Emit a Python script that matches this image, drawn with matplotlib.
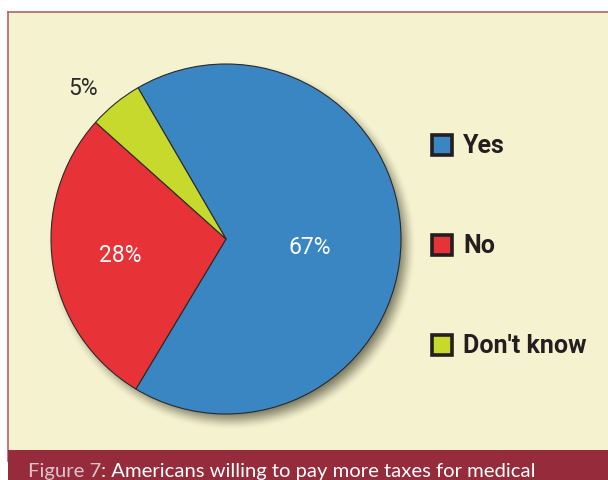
import numpy as np
import matplotlib
matplotlib.use("Agg")
import matplotlib.pyplot as plt
from matplotlib.patches import Rectangle

# Survey answers
categories = ["Yes", "No", "Don't know"]
shares = [67, 28, 5]
colors = ["#3a86c2", "#e73337", "#c7d92c"]
caption_num = "Figure 7"
caption_rest = ": Americans willing to pay more taxes for medical"

W, H = 608, 481
fig = plt.figure(figsize=(W / 100, H / 100), dpi=100)
fig.patch.set_facecolor("white")
ax = fig.add_axes([0, 0, 1, 1])


def py(y):
    # convert a top-down pixel row to axis y
    return H - y


cream = "#f5f2cf"
# panel background and frame
ax.add_patch(Rectangle((8, py(451)), W - 8, 451 - 13, facecolor=cream,
                       edgecolor="none", zorder=0))
ax.plot([8, 8], [py(462), py(13)], color="#b0646e", lw=1.2, zorder=1)
ax.plot([8, W], [py(13), py(13)], color="#b0646e", lw=1.2, zorder=1)
# caption bar
ax.add_patch(Rectangle((8, 0), W - 8, H - 451, facecolor="#952b3b",
                       edgecolor="none", zorder=1))

cx, cy, R = 226, py(240), 175

# soft drop shadow behind the pie
n = 400
xs = np.linspace(cx - R - 40, cx + R + 40, n)
ys = np.linspace(cy - R - 40, cy + R + 40, n)
X, Y = np.meshgrid(xs, ys)
d = np.hypot(X - (cx + 6), Y - (cy - 7))
a = np.clip((R + 10 - d) / 22, 0, 1)
a = a * a * (3 - 2 * a) * 0.8
rgba = np.zeros((n, n, 4))
rgba[..., 0] = 0.33
rgba[..., 1] = 0.33
rgba[..., 2] = 0.25
rgba[..., 3] = a
ax.imshow(rgba, extent=(xs[0], xs[-1], ys[0], ys[-1]), origin="lower",
          zorder=2, interpolation="bilinear")

wedges, _ = ax.pie(shares, colors=colors, startangle=120.2, counterclock=False,
                   center=(cx, cy), radius=R,
                   wedgeprops=dict(edgecolor="#2a2a2a", linewidth=0.8))
for w in wedges:
    w.set_zorder(3)

ax.set_xlim(0, W)
ax.set_ylim(0, H)
ax.set_aspect("auto")
ax.axis("off")

# percentage labels
placement = [(0.48, -5.0, "white"), (0.61, 0.0, "white"), (1.19, 4.0, "#2b2b2b")]
for w, val, (rf, dth, col) in zip(wedges, shares, placement):
    th = np.deg2rad((w.theta1 + w.theta2) / 2 + dth)
    ax.text(cx + rf * R * np.cos(th), cy + rf * R * np.sin(th), f"{val}%",
            ha="center", va="center", fontsize=16.5, color=col,
            family="Roboto", zorder=5)

# legend
legend_rows = [146, 246, 346]
for name, col, yc in zip(categories, colors, legend_rows):
    ax.add_patch(Rectangle((432, py(yc) - 10), 20, 20, facecolor=col,
                           edgecolor="#231f20", linewidth=2.6, zorder=5))
    ax.text(463, py(yc), name, ha="left", va="center", fontsize=18,
            fontweight="bold", color="#231f20", family="Roboto", zorder=5)

# caption, two colours on one line
cap_size = 14
t1 = ax.text(28, py(477), caption_num, ha="left", va="baseline",
             fontsize=cap_size, color="#dcc3c7", family="Lato", zorder=5)
t2 = ax.annotate(caption_rest, xy=(1, 0), xycoords=t1, ha="left",
                 va="bottom", fontsize=cap_size, color="white",
                 family="Lato", zorder=5)
fig.canvas.draw()
span = t2.get_window_extent().x1 - t1.get_window_extent().x0
scale = 510 / span
t1.set_fontsize(cap_size * scale)
t2.set_fontsize(cap_size * scale)

fig.savefig("out.png", dpi=100, facecolor="white")
